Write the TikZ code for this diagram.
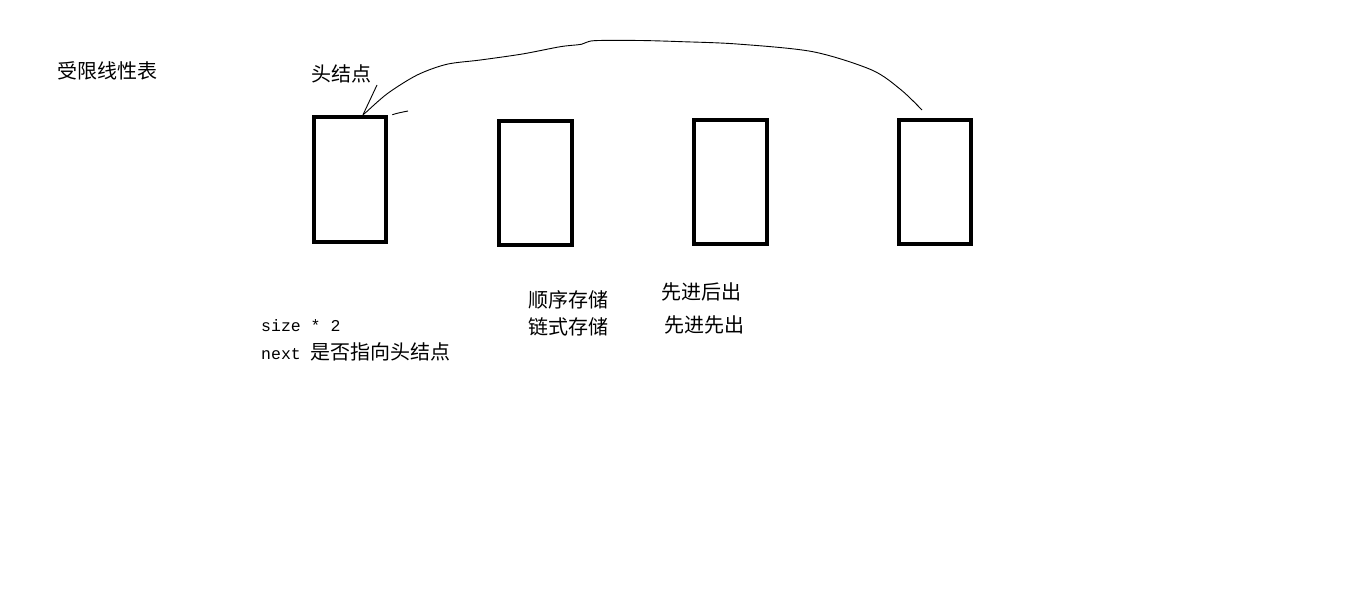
\documentclass[tikz,border=0pt]{standalone}
\usepackage{fontspec}
\setmonofont{Liberation Mono}
\newfontfamily\cjk{Noto Sans CJK SC}
\tikzset{
  membox/.style={draw=black, line width=4.5pt, inner sep=0pt},
  thin line/.style={draw=black, line width=0.9pt},
  cjktext/.style={anchor=west, inner sep=0pt, font=\cjk\fontsize{20}{20}\selectfont},
  monotext/.style={anchor=west, inner sep=0pt, font=\ttfamily\fontsize{16.5}{19}\selectfont},
}
\begin{document}
\begin{tikzpicture}[x=1pt,y=-1pt]
\useasboundingbox[fill=white] (0,0) rectangle (1360,604);
% boxes
\node[membox, minimum width=72pt, minimum height=125pt] (b1) at (350,179.5) {};
\node[membox, minimum width=73pt, minimum height=124pt] (b2) at (535.5,183) {};
\node[membox, minimum width=73pt, minimum height=124pt] (b3) at (730.5,182) {};
\node[membox, minimum width=72pt, minimum height=124pt] (b4) at (935,182) {};
% texts
\node[cjktext] (title) at (57,71) {受限线性表};
\node[cjktext] (head) at (311,74) {头结点};
\node[monotext] (size) at (261,326) {size * 2};
\node[anchor=west, inner sep=0pt] (next) at (261,352) {{\ttfamily\fontsize{16.5}{19}\selectfont next }{\cjk\fontsize{20}{20}\selectfont 是否指向头结点}};
\node[cjktext] (seq) at (528,300) {顺序存储};
\node[cjktext] (link) at (528,327) {链式存储};
\node[cjktext] (filo) at (661,292) {先进后出};
\node[cjktext] (fifo) at (664,325) {先进先出};
% connectors
\coordinate (c1) at ([xshift=13pt]b1.north);
\coordinate (c4) at (922,110);
\coordinate (hp) at (377,85);
\draw[thin line] (c1) -- (hp);
\draw[thin line] (c1) -- (366.7,111.7) plot[smooth, tension=0.5] coordinates {(366.7,111.7) (387.8,93.3) (417.2,75) (446.7,64.3) (480.4,60) (522.4,54) (560.3,46.7) (581.4,44.3) (594,40.7) (640,40.5) (682.4,41.7) (737,44) (812.8,51.7) (871.8,70) (901.2,90) (c4)};
\coordinate (t1) at ([xshift=4pt]b1.north east);
\draw[thin line] (t1) .. controls (398,113) .. (408,111);
\end{tikzpicture}
\end{document}
